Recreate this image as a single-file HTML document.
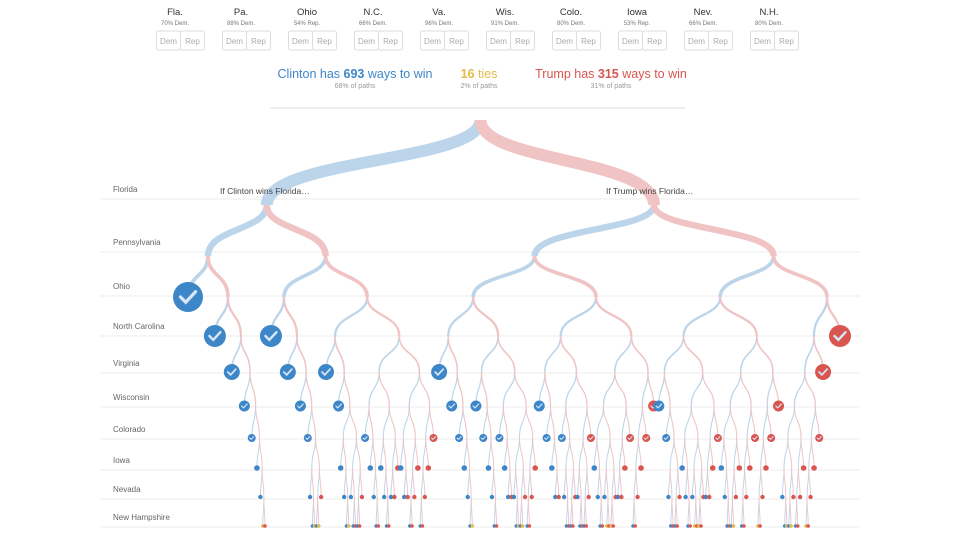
<!DOCTYPE html>
<html><head><meta charset="utf-8">
<style>
body{margin:0;background:#fff;font-family:"Liberation Sans",sans-serif;}
#wrap{position:relative;width:960px;height:540px;overflow:hidden;}
svg{position:absolute;left:0;top:0;}
</style></head>
<body>
<div id="wrap">
<svg id="chart" width="960" height="540"></svg>
</div>
<script>
const states=["Florida","Pennsylvania","Ohio","North Carolina","Virginia","Wisconsin","Colorado","Iowa","Nevada","New Hampshire"];
const abbr=["Fla.","Pa.","Ohio","N.C.","Va.","Wis.","Colo.","Iowa","Nev.","N.H."];
const forecasts=["70% Dem.","88% Dem.","54% Rep.","66% Dem.","96% Dem.","91% Dem.","80% Dem.","53% Rep.","66% Dem.","80% Dem."];
const electoralVotes=[29,20,18,15,13,10,9,6,6,4];
const clintonBase=[216];
const summaryCounts=[693,16,315];
const summaryPcts=["68%","2%","31%"];

const NS="http://www.w3.org/2000/svg";
const svg=document.getElementById('chart');
function mk(tag,attrs,parent){const e=document.createElementNS(NS,tag);for(const k in attrs)e.setAttribute(k,attrs[k]);(parent||svg).appendChild(e);return e;}
function txt(x,y,s,attrs){const t=mk('text',Object.assign({x:x,y:y},attrs));t.textContent=s;return t;}

const BLUE="#3d86c8",RED="#d95550",LB="#bcd5ea",LR="#f0c4c4",GOLD="#e6b94a";
for(let i=0;i<abbr.length;i++){
  const cx=175+i*66;
  const g=mk('g',{});
  
  
  g.appendChild(txt(cx,15,abbr[i],{'text-anchor':'middle','font-size':'9.5','fill':'#333'}));
  g.appendChild(txt(cx,25,forecasts[i],{'text-anchor':'middle','font-size':'6','fill':'#777'}));
  const b1=mk('rect',{x:cx-18.5,y:31,width:24,height:19,fill:'#fff',stroke:'#ddd','stroke-width':1,rx:2},g);
  
  const b2=mk('rect',{x:cx+5.5,y:31,width:24,height:19,fill:'#fff',stroke:'#ddd','stroke-width':1,rx:2},g);
  
  g.appendChild(txt(cx-6.5,44,'Dem',{'text-anchor':'middle','font-size':'8','fill':'#aaa'}));
  g.appendChild(txt(cx+17.5,44,'Rep',{'text-anchor':'middle','font-size':'8','fill':'#aaa'}));
}
function summary(cx,parts,color,sub,name){
  const t=mk('text',{x:cx,y:78,'text-anchor':'middle','font-size':'12.5','fill':color});
  
  parts.forEach(p=>{const s=mk('tspan',p[1]?{'font-weight':'bold'}:{},t);s.textContent=p[0];});
  const s=txt(cx,88,sub,{'text-anchor':'middle','font-size':'7','fill':'#999'});
  
}
summary(355,[["Clinton has "],[String(summaryCounts[0]),1],[" ways to win"]],BLUE,summaryPcts[0]+" of paths",'clinton-summary');
summary(479,[[String(summaryCounts[1]),1],[" ties"]],GOLD,summaryPcts[1]+" of paths",'ties-summary');
summary(611,[["Trump has "],[String(summaryCounts[2]),1],[" ways to win"]],RED,summaryPcts[2]+" of paths",'trump-summary');
const sep=mk('line',{x1:270,x2:685,y1:108,y2:108,stroke:'#ddd'});


const lineY=[199,252,296,336,373,407,439,470,499,527];
for(let i=0;i<states.length;i++){
  const l=mk('line',{x1:100,x2:860,y1:lineY[i],y2:lineY[i],stroke:'#eee'});
  
  const t=txt(113,lineY[i]-7,states[i],{'font-size':'8','fill':'#666'});
  
}

const depthY=[120,205,256,297,336,372,406,438,468,497,526];
const radius=[16,16,15,15,11,8,5.5,4,2.8,2.2,1.8];
const leafOff=[46,46,46,46,30,21,13,9,6,4,2.5,1.5];
const GAP=1;
const ROOT_SHIFT=20;
const total=electoralVotes.reduce((a,b)=>a+b,0);
function build(d,cSum,rem){
  if(cSum>=270) return {d,res:'C'};
  if(cSum+rem<=268) return {d,res:'T'};
  if(d===electoralVotes.length) return {d,res:'X'};
  const ev=electoralVotes[d];
  return {d,kids:[build(d+1,cSum+ev,rem-ev),build(d+1,cSum,rem-ev)]};
}
const root=build(0,clintonBase[0],total);
function lay(n){
  if(!n.kids){const r=radius[n.d];return {min:-r,max:r};}
  const a=n.kids[0],b=n.kids[1];
  const la=!a.kids,lb=!b.kids;
  if(la&&lb){const o=leafOff[a.d];a.dx=-o;b.dx=o;const r=radius[a.d];return {min:-o-r,max:o+r};}
  if(la){const o=leafOff[a.d];const eb=lay(b);a.dx=-o;b.dx=o;return {min:Math.min(-o-radius[a.d],o+eb.min),max:o+eb.max};}
  if(lb){const o=leafOff[b.d];const ea=lay(a);b.dx=o;a.dx=-o;return {min:-o+ea.min,max:Math.max(o+radius[b.d],-o+ea.max)};}
  const ea=lay(a),eb=lay(b);
  const s=Math.max(ea.max-eb.min+GAP,5);
  a.dx=-s/2;b.dx=s/2;
  return {min:-s/2+ea.min,max:s/2+eb.max};
}
lay(root);
const all=[],leaves=[];
(function abs(n,px){n.ax=px+(n.dx||0);all.push(n);if(n.kids)n.kids.forEach(c=>abs(c,n.ax));else leaves.push(n);})(root,0);
const lmin=Math.min(...leaves.map(l=>l.ax)),lmax=Math.max(...leaves.map(l=>l.ax));
const x0=188,x1=840;
all.forEach(n=>{n.x=x0+(x1-x0)*(n.ax-lmin)/(lmax-lmin);n.y=depthY[n.d];});
root.x+=ROOT_SHIFT;

const linkG=mk('g',{});
const nodeG=mk('g',{});
(function draw(n){
  if(!n.kids) return;
  n.kids.forEach((c,k)=>{
    const paths=Math.pow(2,electoralVotes.length-c.d);
    const w=0.9+22*paths/1024;
    const dy=c.y-n.y;
    const p=mk('path',{d:`M${n.x},${n.y} C${n.x},${n.y+dy*0.5} ${c.x},${c.y-dy*0.55} ${c.x},${c.y}`,fill:'none',stroke:k===0?LB:LR,'stroke-width':w},linkG);
    
    
    draw(c);
  });
})(root);
leaves.forEach(l=>{
  const r=radius[l.d];
  const col=l.res==='C'?BLUE:l.res==='T'?RED:GOLD;
  const c=mk('circle',{cx:l.x,cy:l.y,r:r,fill:col},nodeG);
  
  
  if(r>=4){
    const s=r/10;
    mk('path',{d:`M${l.x-5*s},${l.y} L${l.x-1.5*s},${l.y+3.5*s} L${l.x+5*s},${l.y-3.5*s}`,fill:'none',stroke:'#d6e6f5','stroke-width':Math.max(1,2.2*s),'stroke-linecap':'round'},nodeG);
  }
});
const lc=txt(220,194,'If Clinton wins Florida…',{'font-size':'8.5','fill':'#444'});

const lt=txt(606,194,'If Trump wins Florida…',{'font-size':'8.5','fill':'#444'});

</script>
</body></html>
